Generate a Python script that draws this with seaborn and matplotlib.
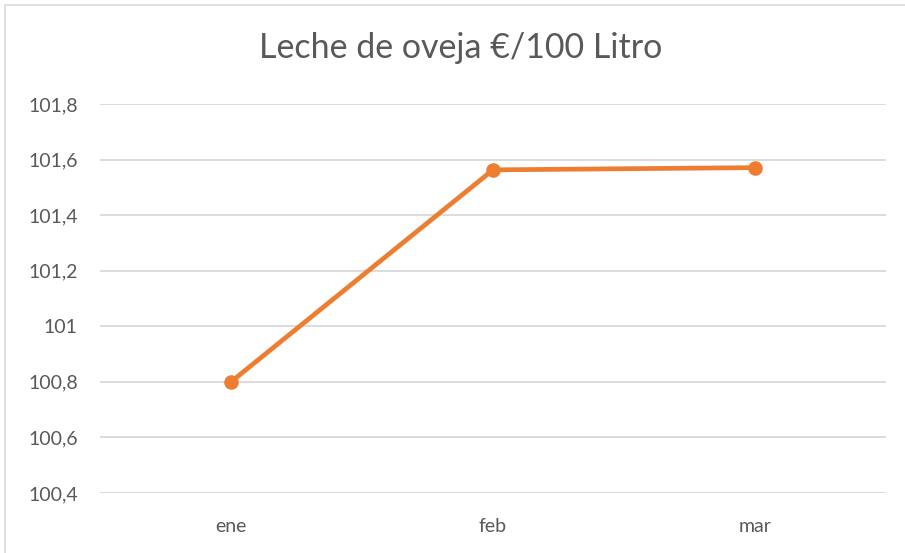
import matplotlib.pyplot as plt
from matplotlib.patches import Rectangle
import seaborn as sns
import pandas as pd

meses = ['ene', 'feb', 'mar']
precio = [100.80, 101.563, 101.571]
y_ticks = [100.4, 100.6, 100.8, 101.0, 101.2, 101.4, 101.6, 101.8]
y_labels = ['100,4', '100,6', '100,8', '101', '101,2', '101,4', '101,6', '101,8']
titulo = 'Leche de oveja €/100 Litro'

sns.set_style('white')
plt.rcParams['font.family'] = ['Lato', 'DejaVu Sans']

W, H = 905, 553
fig = plt.figure(figsize=(W / 100, H / 100), dpi=100)
ax = fig.add_axes([100 / W, (H - 493) / H, 786 / W, 389 / H])

df = pd.DataFrame({'mes': meses, 'precio': precio})
sns.lineplot(data=df, x='mes', y='precio', sort=False, ax=ax, color='#ED7D31',
             linewidth=3.4, marker='o', markersize=10.5, markeredgewidth=0)

ax.set_xlim(-0.5, len(meses) - 0.5)
ax.set_ylim(100.4, 101.8)
ax.set_yticks(y_ticks)
ax.set_yticklabels(y_labels)
ax.grid(axis='y', color='#D9D9D9', linewidth=1.3)
ax.set_axisbelow(True)
for s in ax.spines.values():
    s.set_visible(False)
ax.tick_params(axis='both', length=0, labelsize=14, colors='#595959')
ax.tick_params(axis='y', pad=16)
ax.tick_params(axis='x', pad=18)
ax.set_xlabel('')
ax.set_ylabel('')

fig.text(461 / W, 1 - 48 / H, titulo, ha='center', va='center', fontsize=24.5,
         color='#595959')

# chart area border
fig.patches.append(Rectangle((5 / W, -0.1), 1.2, 1 - 5 / H + 0.1, transform=fig.transFigure,
                             fill=False, edgecolor='#D9D9D9', linewidth=1.2))

fig.savefig('out.png', dpi=100, facecolor='white')
